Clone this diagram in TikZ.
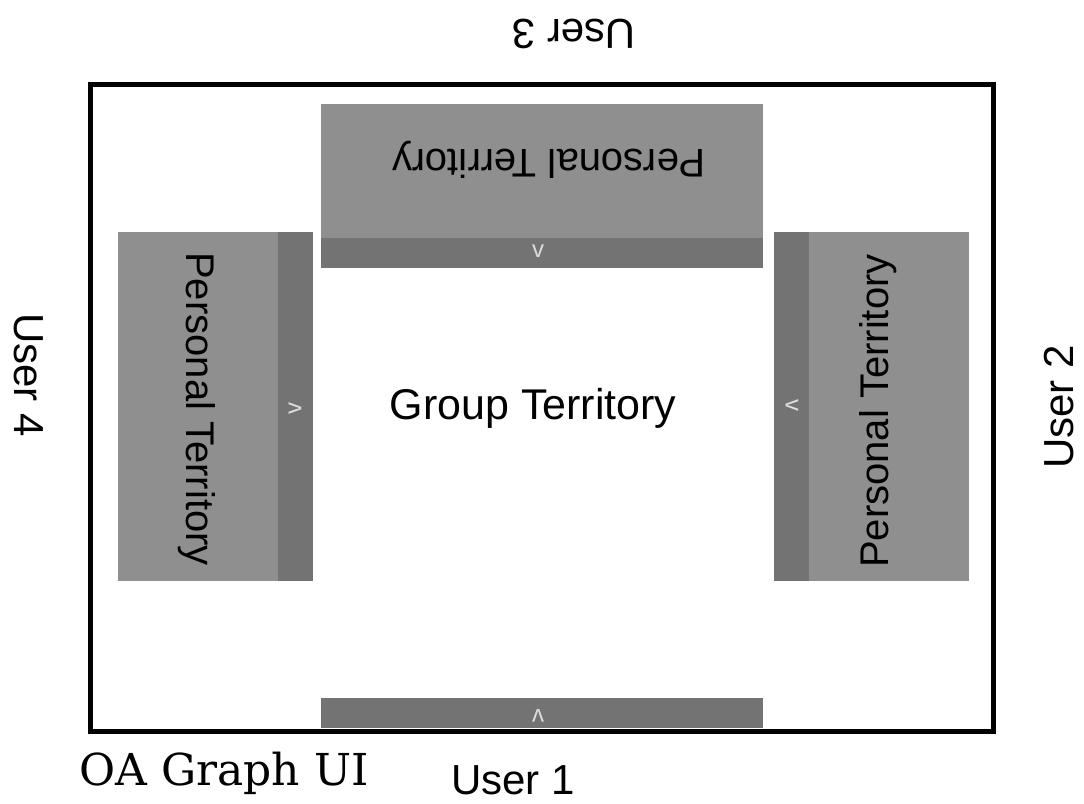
\documentclass[tikz,border=0pt]{standalone}
\usepackage{fontspec}
\setmainfont{Liberation Sans}
\newfontfamily\oaserif{DejaVu Serif}
\definecolor{panelgray}{RGB}{143,143,143}
\definecolor{bargray}{RGB}{115,115,115}
\definecolor{chevgray}{RGB}{220,220,220}
\begin{document}
\begin{tikzpicture}[x=1pt,y=-1pt,
  box/.style={rectangle,draw=none,inner sep=0pt,outer sep=0pt},
  panel/.style={box,fill=panelgray},
  bar/.style={box,fill=bargray},
  lbl/.style={inner sep=0pt,font=\fontsize{42}{42}\selectfont},
  ptext/.style={inner sep=0pt,font=\fontsize{40}{40}\selectfont},
  chev/.style={inner sep=0pt,text=chevgray,font=\fontsize{24}{24}\selectfont}]
\useasboundingbox (0,0) rectangle (1084,803);
% outer frame
\node[box,draw=black,line width=5pt,minimum width=903pt,minimum height=647pt] (frame) at (542,407.5) {};
% top panel (User 3)
\node[panel,minimum width=442pt,minimum height=134pt] (toppanel) at (542,171) {};
\node[bar,minimum width=442pt,minimum height=30pt] (topbar) at (542,253) {};
% left panel (User 4)
\node[panel,minimum width=160pt,minimum height=349pt] (leftpanel) at (198,406.5) {};
\node[bar,minimum width=35pt,minimum height=349pt] (leftbar) at (295.5,406.5) {};
% right panel (User 2)
\node[bar,minimum width=35pt,minimum height=349pt] (rightbar) at (791.5,406.5) {};
\node[panel,minimum width=160pt,minimum height=349pt] (rightpanel) at (889,406.5) {};
% bottom bar (User 1)
\node[bar,minimum width=442pt,minimum height=30pt] (bottombar) at (542,713) {};
% panel texts
\node[ptext] (toptext) at (549,160) {\rotatebox{180}{Personal Territory}};
\node[ptext] (lefttext) at (197,409) {\rotatebox{-90}{Personal Territory}};
\node[ptext] (righttext) at (878,411) {\rotatebox{90}{Personal Territory}};
% chevrons
\node[chev] (topchev) at (538,251) {v};
\node[chev] (leftchev) at (295,408) {\rotatebox{90}{v}};
\node[chev] (rightchev) at (792,405) {\rotatebox{-90}{v}};
\node[chev] (bottomchev) at (538,716) {\rotatebox{180}{v}};
% group territory
\node[inner sep=0pt,font=\fontsize{43}{43}\selectfont] (group) at (533,408) {Group Territory};
% user labels
\node[lbl] (user3) at (574,34) {\rotatebox{180}{User 3}};
\node[lbl] (user4) at (29,375) {\rotatebox{-90}{User 4}};
\node[lbl] (user2) at (1059,407) {\rotatebox{90}{User 2}};
\node[lbl,anchor=base] (user1) at (513,794) {User 1};
\node[inner sep=0pt,anchor=base,font=\oaserif\fontsize{44}{44}\selectfont] (oa) at (224,785) {OA Graph UI};
\end{tikzpicture}
\end{document}
